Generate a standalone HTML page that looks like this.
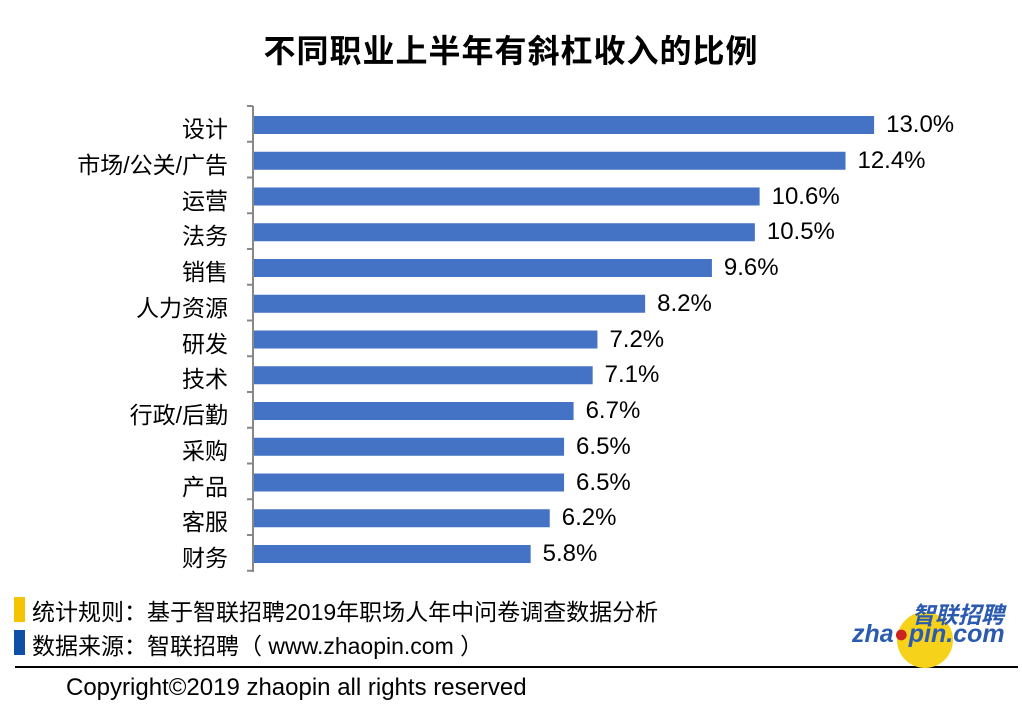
<!DOCTYPE html>
<html><head><meta charset="utf-8"><style>
body{margin:0;width:1022px;height:722px;background:#fff;position:relative;overflow:hidden;font-family:"Liberation Sans","Noto Sans CJK SC",sans-serif;color:#000}
.t{position:absolute;white-space:nowrap}
</style></head><body>
<div class="t" style="left:0;width:1022px;top:26px;text-align:center;font-size:32px;font-weight:bold;letter-spacing:1px">不同职业上半年有斜杠收入的比例</div>
<svg width="1022" height="722" style="position:absolute;left:0;top:0">
<g id="bars"></g>
</svg>
<div id="labels"></div>
<div style="position:absolute;left:14px;top:597px;width:11px;height:25px;background:#f5c400"></div>
<div style="position:absolute;left:14px;top:630px;width:11px;height:25px;background:#0f4fa8"></div>
<div class="t" style="left:32px;top:593px;font-size:23px">统计规则：基于智联招聘2019年职场人年中问卷调查数据分析</div>
<div class="t" style="left:32px;top:627px;font-size:23px">数据来源：智联招聘（ www.zhaopin.com ）</div>
<div style="position:absolute;left:15px;top:666px;width:1003px;height:2px;background:#000"></div>
<div class="t" style="left:66px;top:674px;font-size:24px">Copyright©2019 zhaopin all rights reserved</div>
<div style="position:absolute;left:897px;top:612px;width:56px;height:56px;border-radius:50%;background:#f7d21a"></div>
<div class="t" style="left:912px;top:596px;font-size:23px;font-weight:bold;color:#2a5bb0;font-style:italic">智联招聘</div>
<div class="t" style="left:852px;top:620px;font-size:25px;font-weight:bold;color:#2a5bb0;font-style:italic">zha<span style="color:#c22">●</span>pin.com</div>
<script>
var d=[["设计",13.0],["市场/公关/广告",12.4],["运营",10.6],["法务",10.5],["销售",9.6],["人力资源",8.2],["研发",7.2],["技术",7.1],["行政/后勤",6.7],["采购",6.5],["产品",6.5],["客服",6.2],["财务",5.8]];
var s='',h='';var sp=35.75;
s+='<line x1="253" y1="106" x2="253" y2="572" stroke="#888" stroke-width="2"/>';
for(var i=0;i<=13;i++){var y=106+i*sp;s+='<line x1="247" y1="'+y+'" x2="253" y2="'+y+'" stroke="#888" stroke-width="2"/>';}
d.forEach(function(r,i){var y=116+i*sp;var w=r[1]*47.7;
s+='<rect x="254" y="'+y+'" width="'+w+'" height="18" fill="#4472c4"/>';
h+='<div class="t" style="right:'+(1022-228)+'px;top:'+(y-6)+'px;font-size:23px">'+r[0]+'</div>';
h+='<div class="t" style="left:'+(254+w+12)+'px;top:'+(y-5)+'px;font-size:24px">'+r[1].toFixed(1)+'%</div>';});
document.getElementById('bars').innerHTML=s;document.getElementById('labels').innerHTML=h;
</script>
</body></html>
